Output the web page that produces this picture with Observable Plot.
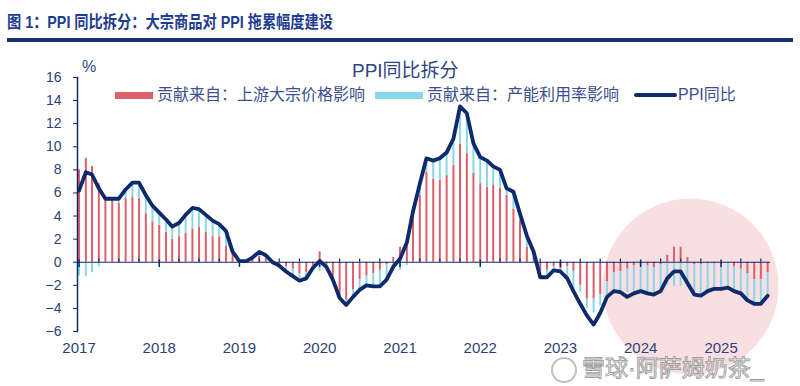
<!DOCTYPE html>
<html>
<head>
<meta charset="utf-8">
<script src="https://cdn.jsdelivr.net/npm/d3@7"></script>
<script src="https://cdn.jsdelivr.net/npm/@observablehq/plot@0.6"></script>
<style>
  html, body { margin: 0; padding: 0; background: #fff; }
  #wrap { position: relative; width: 800px; height: 386px; overflow: hidden; background: #fff;
          font-family: "Liberation Sans", "Noto Sans CJK SC", sans-serif; }
  .abs { position: absolute; white-space: nowrap; }
  .cjk { font-family: "Liberation Sans", "Noto Sans CJK SC", sans-serif; }
  #chart { position: absolute; left: 0; top: 48px; }
</style>
</head>
<body>
<div id="wrap">
  <div class="abs cjk" id="mainTitle" style="left:7px;top:12px;font-size:17px;line-height:22px;font-weight:bold;color:#1f3d8f;transform-origin:0 50%;"></div>
  <div class="abs" style="left:7px;top:38px;width:786px;height:3.5px;background:#1c2f6e;"></div>
  <div id="chart"></div>
  <div class="abs cjk" id="ctitle" style="left:352px;top:55px;font-size:19px;color:#2f4585;"></div>
  <div class="abs" id="pct" style="left:82px;top:58px;font-size:16px;color:#2f4585;">%</div>
  <div id="legend"></div>
  <div class="abs" style="left:551px;top:357px;width:22px;height:22px;border-radius:50%;border:2px solid rgba(150,150,150,0.6);background:rgba(255,255,255,0.6);"></div>
  <div class="abs cjk" id="wm" style="left:582px;top:354px;font-size:23px;line-height:28px;color:rgba(255,255,255,0.85);-webkit-text-stroke:1px rgba(130,130,130,0.75);"></div>
</div>
<script>
// ---- data ----
const mainTitle = "图 1：PPI 同比拆分：大宗商品对 PPI 拖累幅度建设";
const chartTitle = "PPI同比拆分";
const seriesNames = ["贡献来自：上游大宗价格影响", "贡献来自：产能利用率影响", "PPI同比"];
const watermark = "雪球·阿萨姆奶茶_";
const startMonth = "2017-01";
const endMonth = "2025-08";

// PPI YoY (%), monthly 2017-01 .. 2025-08
const ppi = [
  6.2, 7.8, 7.6, 6.4, 5.5, 5.5, 5.5, 6.3, 6.9, 6.9, 5.8, 4.9,
  4.3, 3.7, 3.1, 3.4, 4.1, 4.7, 4.6, 4.1, 3.6, 3.3, 2.7, 0.9,
  0.1, 0.1, 0.4, 0.9, 0.6, 0.0, -0.3, -0.8, -1.2, -1.6, -1.4, -0.5,
  0.1, -0.4, -1.5, -3.1, -3.7, -3.0, -2.4, -2.0, -2.1, -2.1, -1.5, -0.4,
  0.3, 1.7, 4.4, 6.8, 9.0, 8.8, 9.0, 9.5, 10.7, 13.5, 12.9, 10.3,
  9.1, 8.8, 8.3, 8.0, 6.4, 6.1, 4.2, 2.3, 0.9, -1.3, -1.3, -0.7,
  -0.8, -1.4, -2.5, -3.6, -4.6, -5.4, -4.4, -3.0, -2.5, -2.6, -3.0, -2.7,
  -2.5, -2.7, -2.8, -2.5, -1.4, -0.8, -0.8, -1.8, -2.8, -2.9, -2.5, -2.3,
  -2.3, -2.2, -2.5, -2.7, -3.3, -3.6, -3.6, -2.9
];
// contribution from upstream commodity prices
const upstream = [
  8.0, 9.0, 8.3, 6.8, 5.5, 5.4, 5.1, 5.5, 5.6, 5.5, 4.2, 3.5,
  3.2, 2.6, 2.0, 2.2, 2.5, 2.9, 3.0, 2.6, 2.2, 2.2, 1.4, 0.7,
  0.1, 0.1, 0.3, 0.5, 0.3, 0.0, -0.2, -0.4, -0.6, -1.0, -0.9, -0.3,
  0.9, -0.3, -1.3, -2.8, -3.3, -2.4, -1.5, -1.2, -1.0, -0.7, -0.2, 0.4,
  1.3, 2.0, 3.8, 5.8, 7.8, 7.2, 7.1, 7.5, 8.4, 10.2, 9.4, 7.7,
  6.8, 6.5, 6.7, 6.4, 5.8, 4.6, 3.6, 1.3, 0.5, -0.8, -0.7, -0.4,
  -0.6, -0.4, -0.8, -2.0, -3.2, -3.2, -2.8, -1.7, -0.9, -0.8, -0.6, -0.3,
  -0.2, -0.3, -0.5, -0.2, 0.6, 1.3, 1.3, 0.4, -0.2, -0.2, -0.1, -0.1,
  -0.2, 0.0, -0.4, -0.6, -1.0, -1.5, -1.5, -0.9
];
// contribution from capacity utilisation
const capacity = [
  -1.2, -1.25, -0.9, -0.4, 0.0, 0.1, 0.4, 0.8, 1.3, 1.4, 1.6, 1.4,
  1.1, 1.1, 1.1, 1.2, 1.6, 1.8, 1.6, 1.5, 1.4, 1.1, 1.3, 0.2,
  0.0, 0.0, 0.1, 0.4, 0.3, 0.0, -0.1, -0.4, -0.6, -0.6, -0.5, -0.2,
  -0.8, -0.1, -0.2, -0.3, -0.4, -0.6, -0.9, -0.8, -1.1, -1.4, -1.3, -0.8,
  -0.7, -0.3, 0.6, 1.0, 1.2, 1.6, 1.9, 2.0, 2.3, 3.3, 3.5, 2.6,
  2.3, 2.3, 1.6, 1.6, 0.6, 1.5, 0.6, 1.0, 0.4, -0.5, -0.6, -0.3,
  -0.2, -1.0, -1.7, -0.6, -0.8, -1.2, -1.0, -1.2, -1.7, -1.8, -2.0, -2.3,
  -2.3, -2.4, -2.3, -2.3, -2.0, -2.1, -2.1, -2.2, -2.6, -2.7, -2.4, -2.2,
  -2.1, -2.2, -2.1, -2.1, -2.3, -2.1, -2.1, -2.0
];
const yTicks = [-6, -4, -2, 0, 2, 4, 6, 8, 10, 12, 14, 16];
const yearLabels = [2017, 2018, 2019, 2020, 2021, 2022, 2023, 2024, 2025];
// highlighted region (pink circle) in data terms
const highlight = [{ month: "2024-08", value: -2.1 }];

// ---- styles ----
const RED = "#dc5f69";
const BLUE = "#8ad6ea";
const NAVY = "#0d2a6c";
const TEXT = "#2c3f78";

// ---- build ----
const parseM = d3.utcParse("%Y-%m");
const months = d3.utcMonth.range(parseM(startMonth), d3.utcMonth.offset(parseM(endMonth), 1));
const lineData = months.map((d, i) => ({ date: d, value: ppi[i] }));
const bars = months.flatMap((d, i) => [
  { date: d, series: seriesNames[0], value: upstream[i] },
  { date: d, series: seriesNames[1], value: capacity[i] }
]);
const yearDates = yearLabels.map(y => new Date(Date.UTC(y, 0, 1)));
const quarterDates = d3.utcMonth.every(3).range(parseM(startMonth), d3.utcMonth.offset(parseM(endMonth), 1))
  .filter(d => d.getUTCMonth() !== 0);
const hl = highlight.map(h => ({ date: d3.utcDay.offset(parseM(h.month), 14), value: h.value }));

const chart = Plot.plot({
  width: 800,
  height: 338,
  marginTop: 29,
  marginBottom: 55,
  marginLeft: 77,
  marginRight: 30,
  x: { type: "utc", domain: [new Date(Date.UTC(2016, 11, 25)), new Date(Date.UTC(2025, 7, 14))], axis: null },
  y: { domain: [-6, 16], axis: null },
  color: { domain: seriesNames.slice(0, 2), range: [RED, BLUE] },
  style: { fontFamily: "Liberation Sans, Arial, sans-serif", color: TEXT, background: "transparent", overflow: "visible" },
  marks: [
    Plot.dot(hl, { x: "date", y: "value", r: 88, fill: "#f9dfe2", stroke: "none" }),
    Plot.ruleX(bars, Plot.stackY({ x: "date", y: "value", z: "series", stroke: "series", strokeWidth: 2 })),
    Plot.ruleY([0], { stroke: NAVY, strokeWidth: 1.2 }),
    Plot.ruleX(quarterDates, { x: d => d, y1: 0, y2: 0.28, stroke: NAVY, strokeWidth: 1.2 }),
    Plot.ruleX(yearDates, { x: d => d, y1: 0.2, y2: -0.45, stroke: NAVY, strokeWidth: 1.5 }),
    Plot.line(lineData, { x: "date", y: "value", stroke: NAVY, strokeWidth: 3.8, strokeLinejoin: "round", strokeLinecap: "round" }),
    Plot.frame({ anchor: "left", stroke: NAVY, strokeWidth: 1.5 }),
    Plot.axisY({ ticks: yTicks, tickSize: 4, tickPadding: 12, fontSize: 14, stroke: NAVY, label: null }),
    Plot.axisX({ ticks: yearDates, tickFormat: d3.utcFormat("%Y"), tickSize: 0, tickPadding: 11, fontSize: 15, label: null })
  ]
});
document.getElementById("chart").appendChild(chart);

// ---- texts & legend ----
const mt = document.getElementById("mainTitle");
mt.textContent = mainTitle;
const mtw = mt.getBoundingClientRect().width;
mt.style.transform = `scaleX(${(326 / mtw).toFixed(3)})`;
document.getElementById("ctitle").textContent = chartTitle;
document.getElementById("wm").textContent = watermark;
const legend = document.getElementById("legend");
const legendItems = [
  { name: seriesNames[0], kind: "bar", color: RED, sx: 115, sw: 38, tx: 157 },
  { name: seriesNames[1], kind: "bar", color: BLUE, sx: 375, sw: 48, tx: 427 },
  { name: seriesNames[2], kind: "line", color: NAVY, sx: 634, sw: 43, tx: 678 }
];
for (const it of legendItems) {
  const sw = document.createElement("div");
  sw.className = "abs";
  const h = it.kind === "bar" ? 7 : 4;
  sw.style.cssText = `left:${it.sx}px;top:${95 - h / 2}px;width:${it.sw}px;height:${h}px;background:${it.color};border-radius:${it.kind === "line" ? 2 : 0}px;`;
  legend.appendChild(sw);
  const t = document.createElement("div");
  t.className = "abs cjk";
  t.style.cssText = `left:${it.tx}px;top:85px;font-size:16px;line-height:20px;color:#3d4f8f;`;
  t.textContent = it.name;
  legend.appendChild(t);
}
</script>
</body>
</html>
